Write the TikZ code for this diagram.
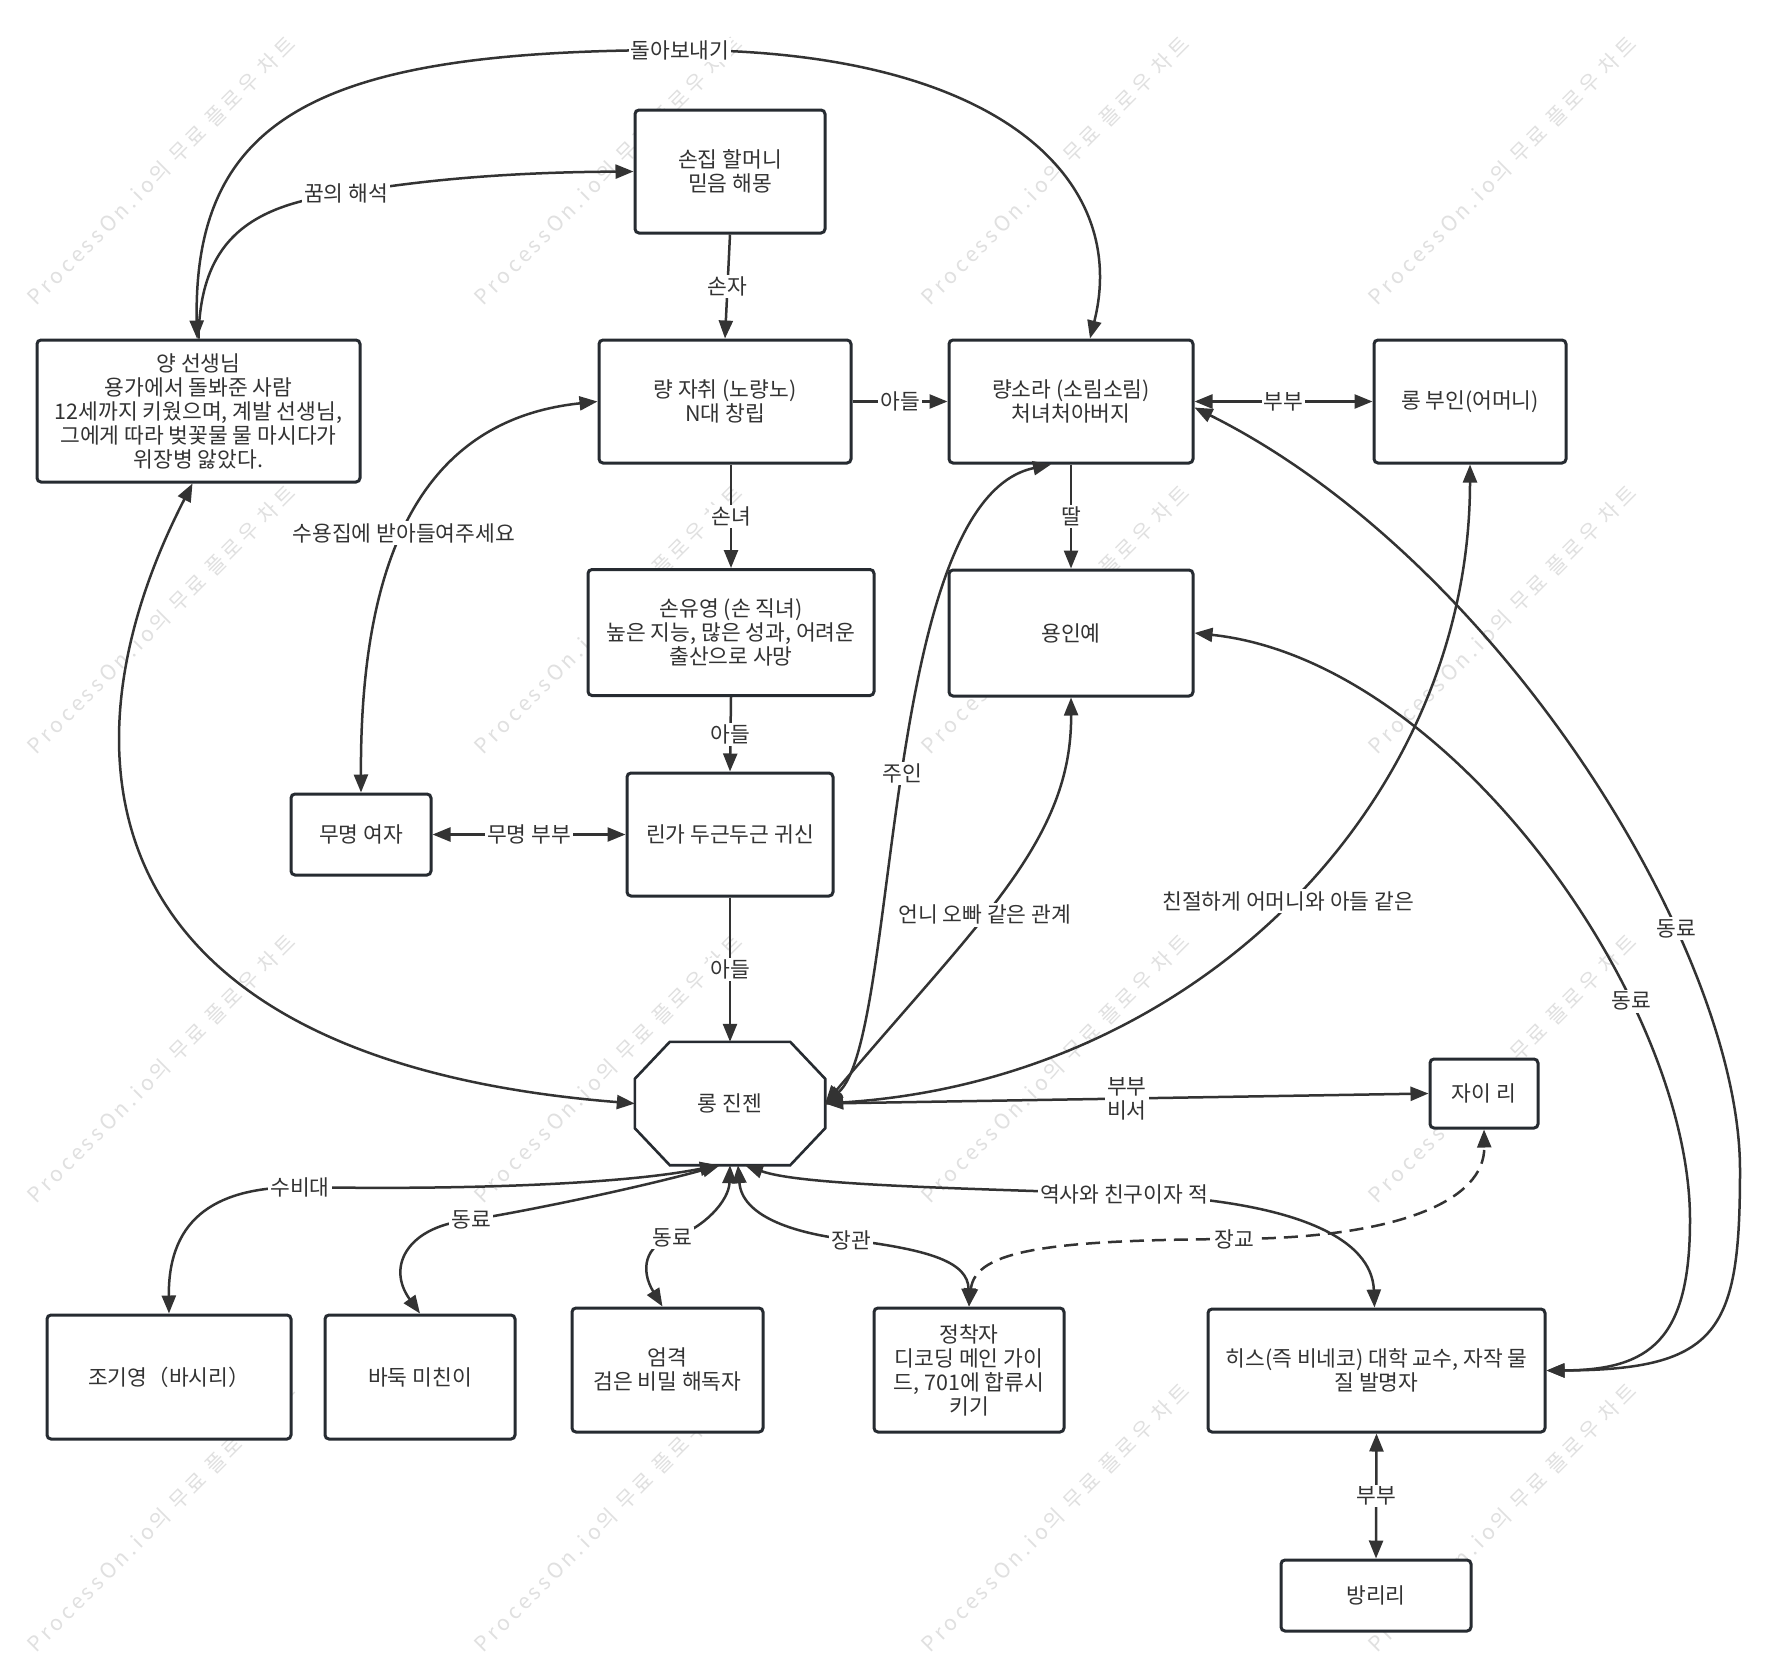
\documentclass[tikz,border=0pt]{standalone}
\usepackage{fontspec}
\setmainfont{Noto Sans CJK KR}
\usetikzlibrary{arrows.meta,calc}
\definecolor{boxc}{HTML}{262B31}
\definecolor{linec}{HTML}{333333}
\definecolor{textc}{HTML}{333333}
\definecolor{wmc}{HTML}{E0E0E0}
\newcommand{\mfnt}{\fontsize{21.5}{24}\selectfont}
\newcommand{\wmfnt}{\fontsize{21}{24}\selectfont\addfontfeature{LetterSpace=18}}
\tikzset{
  boxnode/.style={draw=boxc, line width=3pt, rounded corners=4pt, fill=white, align=center, inner sep=0pt, text=textc, font=\mfnt},
  edge/.style={draw=linec, line width=2.5pt},
  lbl/.style={fill=white, inner sep=2pt, text=textc, font=\mfnt, align=center},
  wm/.style={rotate=45, anchor=base west, text=wmc, font=\wmfnt, inner sep=0pt},
  >={Triangle[length=18pt,width=14pt]}
}
\begin{document}
\begin{tikzpicture}[x=1pt,y=-1pt]
\fill[white] (0,0) rectangle (1775,1668);
\useasboundingbox (0,0) rectangle (1775,1668);
% watermarks
\foreach \i in {0,1,2,3}{\foreach \j in {0,1,2,3}{
  \node[wm] (wm\i\j) at ({36+447*\i},{307+449*\j}) {ProcessOn.io의 무료 플로우 차트};
}}
% nodes
\node[boxnode, minimum width=190pt, minimum height=123pt] (sonjip) at (730,171.5) {손집 할머니\\믿음 해몽};
\node[boxnode, minimum width=323pt, minimum height=142pt] (yang) at (198.5,411) {양 선생님\\용가에서 돌봐준 사람\\12세까지 키웠으며, 계발 선생님,\\그에게 따라 벚꽃물 물 마시다가\\위장병 앓았다.};
\node[boxnode, minimum width=252pt, minimum height=123pt] (ryang) at (725,401.5) {량 자취 (노량노)\\N대 창립};
\node[boxnode, minimum width=244pt, minimum height=123pt] (sora) at (1071,401.5) {량소라 (소림소림)\\처녀처아버지};
\node[boxnode, minimum width=192pt, minimum height=123pt] (buin) at (1470,401.5) {롱 부인(어머니)};
\node[boxnode, minimum width=286pt, minimum height=126pt] (yuyoung) at (731,632.5) {손유영 (손 직녀)\\높은 지능, 많은 성과, 어려운\\출산으로 사망};
\node[boxnode, minimum width=244pt, minimum height=126pt] (yongin) at (1071,633) {용인예};
\node[boxnode, minimum width=140pt, minimum height=81pt] (mumyung) at (361,834.5) {무명 여자};
\node[boxnode, minimum width=206pt, minimum height=123pt] (ringa) at (730,834.5) {린가 두근두근 귀신};
\node[align=center, inner sep=0pt, text=textc, font=\mfnt, minimum width=190pt, minimum height=123pt] (jin) at (730,1103.5) {롱 진젠};
\draw[draw=boxc, line width=2.6pt, line join=miter]
  ($(jin.north west)+(35,0)$) -- ($(jin.north east)+(-35,0)$) -- ($(jin.north east)+(0,37)$) --
  ($(jin.south east)+(0,-37)$) -- ($(jin.south east)+(-35,0)$) -- ($(jin.south west)+(35,0)$) --
  ($(jin.south west)+(0,-37)$) -- ($(jin.north west)+(0,37)$) -- cycle;
\node[boxnode, minimum width=108pt, minimum height=69pt] (jairi) at (1484,1093.5) {자이 리};
\node[boxnode, minimum width=244pt, minimum height=124pt] (jogi) at (169,1377) {조기영（바시리）};
\node[boxnode, minimum width=190pt, minimum height=124pt] (baduk) at (420,1377) {바둑 미친이};
\node[boxnode, minimum width=191pt, minimum height=124pt] (umgyuk) at (667.5,1370) {엄격\\검은 비밀 해독자};
\node[boxnode, minimum width=190pt, minimum height=124pt] (jung) at (969,1370) {정착자\\디코딩 메인 가이\\드, 701에 합류시\\키기};
\node[boxnode, minimum width=337pt, minimum height=123pt] (his) at (1376.5,1370.5) {히스(즉 비네코) 대학 교수, 자작 물\\질 발명자};
\node[boxnode, minimum width=190pt, minimum height=71pt] (bang) at (1376,1595.5) {방리리};
% edges
\draw[edge,<->] ([xshift=-1.5pt]yang.north) .. controls (193,110) and (330,50) .. (680,50) node[lbl] (l1) {돌아보내기} .. controls (1000,50) and (1130,180) .. ([xshift=19pt]sora.north);
\draw[edge,->] (yang.north) .. controls (200,240) and (250,205) .. (346,193) node[lbl] (l2) {꿈의 해석} .. controls (450,175) and (550,172) .. (sonjip.west);
\draw[edge,->] (sonjip.south) -- node[lbl] (l3) {손자} (ryang.north);
\draw[edge,->] (ryang.east) -- node[lbl] (l4) {아들} (sora.west);
\draw[edge,<->] (sora.east) -- node[lbl] (l5) {부부} (buin.west);
\draw[edge,->] (ryang.south -| yuyoung.north) -- node[lbl] (l6) {손녀} (yuyoung.north);
\draw[edge,->] (sora.south) -- node[lbl] (l7) {딸} (yongin.north);
\draw[edge,->] (yuyoung.south) -- node[lbl] (l8) {아들} (ringa.north);
\draw[edge,->] (ringa.south) -- node[lbl] (l9) {아들} (jin.north);
\draw[edge,<->] (mumyung.east) -- node[lbl] (l10) {무명 부부} (ringa.west);
\draw[edge,<->] (mumyung.north) .. controls (360,560) and (420,420) .. (ryang.west) node[lbl,pos=0.46] (l11) {수용집에 받아들여주세요};
\draw[edge,<->] ([xshift=-6pt]yang.south) .. controls (50,760) and (90,1060) .. (jin.west);
\draw[edge,<->] (jin.east) .. controls (900,1040) and (880,500) .. ([xshift=-20pt]sora.south) node[lbl,pos=0.5] (l12) {주인};
\draw[edge,<->] (jin.east) .. controls (980,920) and (1072,840) .. (yongin.south) node[lbl,pos=0.42] (l13) {언니 오빠 같은 관계};
\draw[edge,<->] (jin.east) .. controls (1200,1080) and (1470,800) .. (buin.south) node[lbl,pos=0.5] (l14) {친절하게 어머니와 아들 같은};
\draw[edge,<->] ([yshift=-6pt]sora.east) .. controls (1500,560) and (1740,950) .. (1740,1170) node[lbl,pos=0.69] (l15) {동료} .. controls (1740,1330) and (1720,1370) .. (his.east);
\draw[edge,<->] (yongin.east) .. controls (1450,660) and (1690,1000) .. (1690,1220) node[lbl,pos=0.7] (l16) {동료} .. controls (1690,1340) and (1650,1370) .. (his.east);
\draw[edge,->] (jin.east) -- node[lbl] (l17) {부부\\비서} (jairi.west);
\draw[edge,<->] (jogi.north) .. controls (168,1215) and (220,1187) .. (300,1187) node[lbl] (l18) {수비대} .. controls (450,1190) and (620,1185) .. ([xshift=-12pt]jin.south);
\draw[edge,<->] (baduk.north) .. controls (385,1265) and (410,1225) .. (471,1220) node[lbl] (l19) {동료} .. controls (560,1205) and (660,1182) .. ([xshift=-10pt]jin.south);
\draw[edge,<->] ([xshift=-5pt]umgyuk.north) .. controls (640,1270) and (645,1245) .. (672,1238) node[lbl] (l20) {동료} .. controls (705,1228) and (729,1200) .. (jin.south);
\draw[edge,<->] ([xshift=8pt]jin.south) .. controls (742,1215) and (790,1233) .. (851,1240) node[lbl] (l21) {장관} .. controls (930,1250) and (968,1262) .. (jung.north);
\draw[edge,<->] ([xshift=15pt]jin.south) .. controls (800,1185) and (950,1188) .. (1124,1194) node[lbl] (l22) {역사와 친구이자 적} .. controls (1300,1200) and (1372,1240) .. ([xshift=-2pt]his.north);
\draw[edge,<->,dash pattern=on 14pt off 8pt] (jung.north) .. controls (975,1250) and (1050,1240) .. (1234,1239) node[lbl] (l23) {장교} .. controls (1400,1238) and (1485,1200) .. (jairi.south);
\draw[edge,<->] (his.south) -- node[lbl] (l24) {부부} (bang.north);
\end{tikzpicture}
\end{document}
